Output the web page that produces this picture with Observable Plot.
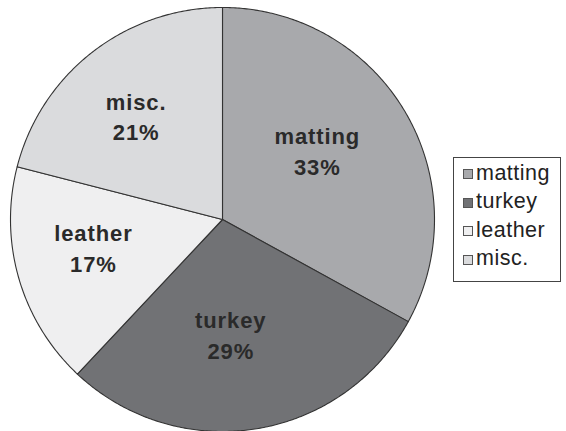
<!DOCTYPE html>
<html>
<head>
<meta charset="utf-8">
<script src="https://cdn.jsdelivr.net/npm/d3@7"></script>
<script src="https://cdn.jsdelivr.net/npm/@observablehq/plot@0.6"></script>
<style>
  html, body { margin: 0; padding: 0; background: #fff; }
  #wrap { position: relative; width: 566px; height: 431px; overflow: hidden; }
  #chart text { letter-spacing: 0.9px; }
  #legend {
    position: absolute; left: 453px; top: 157px; width: 106px; height: 122px;
    border: 1px solid #444; background: #fff; box-sizing: content-box;
    padding-top: 1px; font-family: "Liberation Sans", Arial, sans-serif; font-size: 21.5px;
    letter-spacing: 0.5px; color: #222;
  }
  .item { display: flex; align-items: center; height: 28.5px; padding-left: 9px; white-space: nowrap; }
  .sw { width: 8px; height: 8px; border: 1px solid #555; margin-right: 3px; margin-top: 2px; flex: none; }
</style>
</head>
<body>
<div id="wrap"><div id="chart"></div><div id="legend"></div></div>
<script>
const categories = ["matting", "turkey", "leather", "misc."];
const shares = [33, 29, 17, 21];
const colors = ["#a8a9ac", "#717275", "#efeff0", "#dadbdd"];

// layout
const cx = 222, cy = 219, R = 212;

const total = d3.sum(shares);
const points = [];
const labels = [];
let acc = 0;
categories.forEach((c, i) => {
  const a0 = acc / total * 2 * Math.PI;
  acc += shares[i];
  const a1 = acc / total * 2 * Math.PI;
  points.push({name: c, x: 0, y: 0});
  const n = Math.max(2, Math.ceil((a1 - a0) / (Math.PI / 360)));
  for (let k = 0; k <= n; k++) {
    const a = a0 + (a1 - a0) * k / n;
    points.push({name: c, x: Math.sin(a), y: -Math.cos(a)});
  }
  points.push({name: c, x: 0, y: 0});
  const am = (a0 + a1) / 2;
  labels.push({name: c, x: 0.58 * Math.sin(am), y: -0.58 * Math.cos(am), text: `${c}\n${shares[i]}%`});
});

const chart = Plot.plot({
  width: 566,
  height: 431,
  margin: 0,
  x: {domain: [-1, 1], range: [cx - R, cx + R], axis: null},
  y: {domain: [-1, 1], range: [cy - R, cy + R], axis: null},
  color: {domain: categories, range: colors},
  marks: [
    Plot.line(points, {x: "x", y: "y", z: "name", fill: "name", stroke: "#333", strokeWidth: 1.1, curve: "linear"}),
    Plot.text(labels, {x: "x", y: "y", text: "text", fill: "#2a2a2a", fontSize: 22, fontWeight: "bold",
      fontFamily: "Liberation Sans, Arial, sans-serif", lineHeight: 1.38, dx: -11, dy: -7})
  ]
});
document.getElementById("chart").appendChild(chart);

const legend = document.getElementById("legend");
categories.forEach((c, i) => {
  const row = document.createElement("div");
  row.className = "item";
  const sw = document.createElement("span");
  sw.className = "sw";
  sw.style.background = colors[i];
  row.appendChild(sw);
  row.appendChild(document.createTextNode(c));
  legend.appendChild(row);
});
</script>
</body>
</html>
